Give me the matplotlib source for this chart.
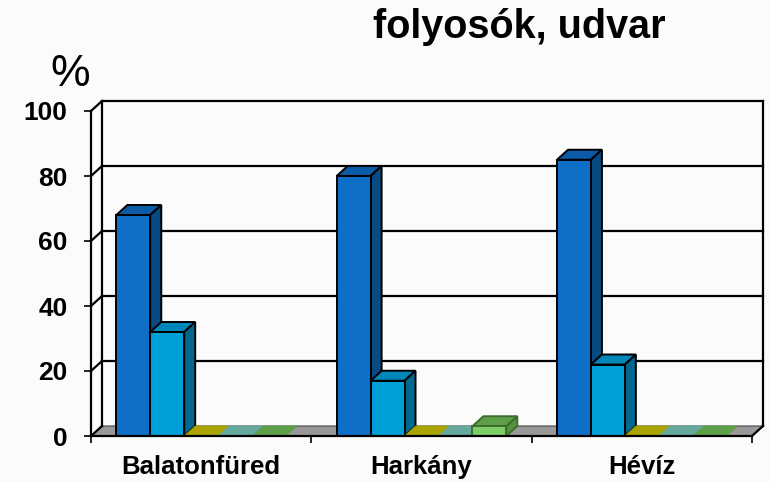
import matplotlib.pyplot as plt
from matplotlib.patches import Polygon

categories = ['Balatonfüred', 'Harkány', 'Hévíz']
s1 = [68, 80, 85]
s2 = [32, 17, 22]
s3 = [0, 0, 0]
s4 = [0, 0, 0]
s5 = [0, 3, 0]
y_ticks = [0, 20, 40, 60, 80, 100]

series = [s1, s2, s3, s4, s5]
# front / top / side colour of each series
colors = [
    ('#0f6fc6', '#0b5ba8', '#084a82'),
    ('#009fd8', '#0087ba', '#00678f'),
    ('#cfc41a', '#aaa300', '#8a8400'),
    ('#7fc4b8', '#66aa9f', '#4f8d83'),
    ('#7dcc66', '#5e9f4a', '#55923f'),
]

plt.rcParams['font.family'] = 'Liberation Sans'

W, H = 769, 482
fig = plt.figure(figsize=(W / 100, H / 100), dpi=100, facecolor='#fbfbfb')

# front plane in pixels + depth offset of the fake 3d
x0, x3, y0, y100 = 91, 752, 436, 111
dxp, dyp = 11, 10
ax = fig.add_axes([x0 / W, (H - y0) / H, (x3 + dxp - x0) / W, (y0 - y100 + dyp) / H])
n = len(categories)
DX = n * dxp / (x3 - x0)
DY = 100 * dyp / (y0 - y100)
ax.set_xlim(0, n + DX)
ax.set_ylim(0, 100 + DY)
ax.patch.set_alpha(0)

lw = 1.6
# floor
ax.add_patch(Polygon([(0, 0), (n, 0), (n + DX, DY), (DX, DY)], closed=True,
                     fc='#999999', ec='#444444', lw=0.8, zorder=1, clip_on=False))
# walls + gridlines
for v in y_ticks:
    if v > 0:
        ax.plot([DX, n + DX], [v + DY, v + DY], color='black', lw=lw, zorder=1, clip_on=False)
    ax.plot([0, DX], [v, v + DY], color='black', lw=lw, zorder=1, clip_on=False)
ax.plot([DX, DX], [DY, 100 + DY], color='black', lw=lw, zorder=1, clip_on=False)
ax.plot([n + DX, n + DX], [DY, 100 + DY], color='black', lw=lw, zorder=1, clip_on=False)
ax.plot([n, n + DX], [0, DY], color='black', lw=lw, zorder=1, clip_on=False)

# bars
bw = 0.154
start = (1 - len(series) * bw) / 2
for i in range(n):
    for j, vals in enumerate(series):
        left = i + start + j * bw
        h = vals[i]
        front, top, side = colors[j]
        z = 3 + i * 10 + j
        if h > 0:
            ec = 'black' if j < 2 else '#3d6e30'
            ax.add_patch(Polygon([(left, h), (left + bw, h), (left + bw + DX, h + DY), (left + DX, h + DY)],
                                 fc=top, ec=ec, lw=1.4, zorder=z))
            ax.add_patch(Polygon([(left + bw, 0), (left + bw + DX, DY), (left + bw + DX, h + DY), (left + bw, h)],
                                 fc=side, ec=ec, lw=1.4, zorder=z))
            ax.bar(left, h, bw, align='edge', color=front, edgecolor=ec, lw=1.4, zorder=z)
        else:
            ax.add_patch(Polygon([(left, 0), (left + bw, 0), (left + bw + DX, DY), (left + DX, DY)],
                                 fc=top, ec=top, lw=0.5, zorder=z))

# axes
for s in ['top', 'right']:
    ax.spines[s].set_visible(False)
ax.spines['left'].set_bounds(0, 100)
ax.spines['bottom'].set_bounds(0, n)
ax.spines['left'].set_linewidth(lw)
ax.spines['bottom'].set_linewidth(lw)
ax.spines['left'].set_zorder(2)
ax.spines['bottom'].set_zorder(50)

ax.set_yticks(y_ticks)
ax.set_yticklabels([str(v) for v in y_ticks], fontsize=19, fontweight='bold')
ax.tick_params(axis='y', length=5, width=1.2, pad=12)

ax.set_xticks(range(n + 1))
ax.set_xticklabels([])
ax.set_xticks([i + 0.5 for i in range(n)], minor=True)
ax.set_xticklabels(categories, minor=True, fontsize=18.5, fontweight='bold')
ax.tick_params(axis='x', which='major', length=5, width=1.2)
ax.tick_params(axis='x', which='minor', length=0, pad=14)

fig.text(519 / W, 1 - 38 / H, 'folyosók, udvar', ha='center', va='baseline',
         fontsize=28.5, fontweight='bold')
fig.text(70 / W, 1 - 86 / H, '%', ha='center', va='baseline', fontsize=32)

fig.savefig('out.png', dpi=100, facecolor=fig.get_facecolor())
